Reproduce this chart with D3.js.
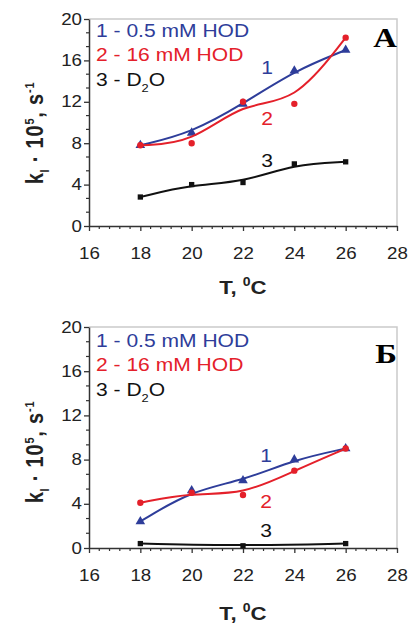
<!DOCTYPE html>
<html>
<head>
<meta charset="utf-8">
<script src="https://cdn.jsdelivr.net/npm/d3@7"></script>
<style>
  body { margin: 0; background: #fff; }
</style>
</head>
<body>
<script>
// data
const temps = [18, 20, 22, 24, 26]
const xTicks = [16, 18, 20, 22, 24, 26, 28]
const yTicks = [0, 4, 8, 12, 16, 20]

const a_hod05 = [7.8, 9.0, 11.8, 15.0, 17.0]
const a_hod16 = [7.8, 8.0, 12.0, 11.8, 18.2]
const a_d2o = [2.8, 4.0, 4.2, 6.0, 6.2]

const b_hod05 = [2.4, 5.2, 6.1, 8.0, 9.0]
const b_hod16 = [4.1, 5.0, 4.8, 7.0, 9.0]
const b_d2oT = [18, 22, 26]
const b_d2o = [0.4, 0.2, 0.4]

const legendLines = ["1 - 0.5 mM HOD", "2 - 16 mM HOD", "3 - D"]

const Blue = "#2e3d9a"
const Red = "#e4202a"
const Black = "#111"
const Sans = "Liberation Sans, Arial, sans-serif"

// picture is a bit wider than tall, so text is stretched sideways
const SX = 1.17

const W = 409, H = 623
const svg = d3.select("body").append("svg")
    .attr("width", W)
    .attr("height", H)

function Stretch(sel) {
    sel.each(function () {
        const t = d3.select(this)
        const xx = +t.attr("x") || 0
        t.attr("transform", `translate(${xx * (1 - SX)},0) scale(${SX},1)`)
    })
}

function DrawPanel(cfg) {
    const x = d3.scaleLinear().domain([16, 28]).range([89, 397])
    const y = d3.scaleLinear().domain([0, 20]).range([cfg.bottom, cfg.top])
    const g = svg.append("g")

    // light frame top/right
    g.append("path")
        .attr("d", `M${x(16)},${y(20)}H${x(28)}V${y(0)}`)
        .attr("fill", "none")
        .attr("stroke", "#cacaca")
        .attr("stroke-width", 1.5)

    // minor ticks
    const xMinor = d3.range(16, 28.001, 0.4).filter(v => Math.abs(v / 2 - Math.round(v / 2)) > 0.01)
    g.selectAll(".xm").data(xMinor).join("line")
        .attr("x1", d => x(d)).attr("x2", d => x(d))
        .attr("y1", y(0)).attr("y2", y(0) + 3)
        .attr("stroke", "#333").attr("stroke-width", 1.2)
    const yMinor = d3.range(0, 20.001, 4 / 3).filter(v => Math.abs(v / 4 - Math.round(v / 4)) > 0.01)
    g.selectAll(".ym").data(yMinor).join("line")
        .attr("x1", x(16) - 3).attr("x2", x(16))
        .attr("y1", d => y(d)).attr("y2", d => y(d))
        .attr("stroke", "#333").attr("stroke-width", 1.2)

    const xAxis = g.append("g")
        .attr("transform", `translate(0,${y(0)})`)
        .call(d3.axisBottom(x).tickValues(xTicks).tickSize(5).tickSizeOuter(0).tickPadding(17))
    const yAxis = g.append("g")
        .attr("transform", `translate(${x(16)},0)`)
        .call(d3.axisLeft(y).tickValues(yTicks).tickSize(5).tickSizeOuter(0).tickPadding(2))
    for (const ax of [xAxis, yAxis]) {
        ax.select(".domain").attr("stroke", "#333").attr("stroke-width", 1.5)
        ax.selectAll(".tick line").attr("stroke", "#333").attr("stroke-width", 1.3)
        ax.selectAll("text").attr("font-size", 16).attr("fill", "#222")
            .attr("font-family", Sans)
            .call(Stretch)
    }

    const line = d3.line().curve(d3.curveBasis).x(d => x(d[0])).y(d => y(d[1]))

    for (const s of cfg.series) {
        const pts = s.t.map((t, i) => [t, s.v[i]])
        g.append("path")
            .attr("d", line(pts))
            .attr("fill", "none")
            .attr("stroke", s.color)
            .attr("stroke-width", 2)
        const sym = d3.symbol().type(s.shape).size(s.size)
        g.selectAll(null).data(pts).join("path")
            .attr("transform", d => `translate(${x(d[0])},${y(d[1])})`)
            .attr("d", sym)
            .attr("fill", s.color)
        g.append("text")
            .attr("x", cfg.labelX)
            .attr("y", s.labelY)
            .attr("text-anchor", "middle")
            .attr("font-family", Sans)
            .attr("font-size", 18)
            .attr("fill", s.color)
            .text(s.label)
            .call(Stretch)
    }

    // legend
    const colors = [Blue, Red, Black]
    legendLines.forEach((txt, i) => {
        const t = g.append("text")
            .attr("x", 96)
            .attr("y", cfg.legendY + i * 24.3)
            .attr("font-family", Sans)
            .attr("font-size", 18)
            .attr("fill", colors[i])
            .text(txt)
        if (i == 2) {
            t.append("tspan").attr("font-size", 11).attr("dy", 6).text("2")
            t.append("tspan").attr("dy", -6).text("O")
        }
        t.call(Stretch)
    })

    // panel letter
    g.append("text")
        .attr("x", 397)
        .attr("y", cfg.letterY)
        .attr("text-anchor", "end")
        .attr("font-family", "Liberation Serif, Times New Roman, serif")
        .attr("font-weight", "bold")
        .attr("font-size", 28)
        .text(cfg.letter)
        .call(Stretch)

    // y title
    const yt = g.append("text")
        .attr("transform", `translate(43,${cfg.yTitleY}) rotate(-90) scale(1,${SX})`)
        .attr("text-anchor", "middle")
        .attr("font-family", Sans)
        .attr("font-weight", "bold")
        .attr("font-size", 20)
        .attr("letter-spacing", 0.8)
        .attr("fill", "#222")
    yt.append("tspan").text("k")
    yt.append("tspan").attr("font-size", 11).attr("dy", 5).text("l")
    yt.append("tspan").attr("dy", -5).text(" · 10")
    yt.append("tspan").attr("font-size", 11).attr("dy", -8).text("5")
    yt.append("tspan").attr("dy", 8).text(", s")
    yt.append("tspan").attr("font-size", 11).attr("dy", -8).text("-1")

    // x title
    const xt = g.append("text")
        .attr("x", 243)
        .attr("y", cfg.xTitleY)
        .attr("text-anchor", "middle")
        .attr("font-family", Sans)
        .attr("font-weight", "bold")
        .attr("font-size", 19)
        .attr("fill", "#222")
    xt.append("tspan").text("T, ")
    xt.append("tspan").attr("font-size", 12).attr("dy", -8).text("0")
    xt.append("tspan").attr("dy", 8).text("C")
    xt.call(Stretch)
}

DrawPanel({
    top: 19, bottom: 226, legendY: 37, letterY: 47, letter: "A",
    yTitleY: 133, xTitleY: 294, labelX: 267,
    series: [
        {t: temps, v: a_hod05, color: Blue, shape: d3.symbolTriangle, size: 40, label: "1", labelY: 74},
        {t: temps, v: a_hod16, color: Red, shape: d3.symbolCircle, size: 32, label: "2", labelY: 125},
        {t: temps, v: a_d2o, color: Black, shape: d3.symbolSquare, size: 28, label: "3", labelY: 167}
    ]
})

DrawPanel({
    top: 327, bottom: 548, legendY: 347, letterY: 363, letter: "Б",
    yTitleY: 452, xTitleY: 620, labelX: 266,
    series: [
        {t: temps, v: b_hod05, color: Blue, shape: d3.symbolTriangle, size: 40, label: "1", labelY: 462},
        {t: temps, v: b_hod16, color: Red, shape: d3.symbolCircle, size: 32, label: "2", labelY: 508},
        {t: b_d2oT, v: b_d2o, color: Black, shape: d3.symbolSquare, size: 28, label: "3", labelY: 537}
    ]
})
</script>
</body>
</html>
